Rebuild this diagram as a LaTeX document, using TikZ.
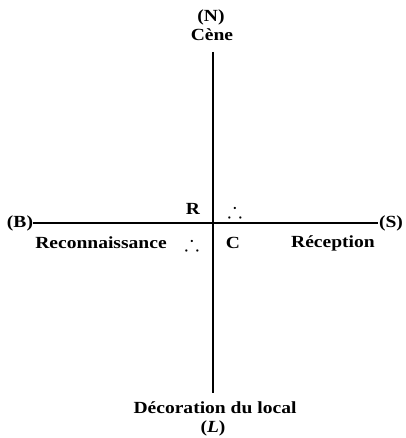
\documentclass[tikz,border=0pt]{standalone}
\usepackage{amssymb}
\usepackage{fontspec}
\setmainfont[FakeStretch=1.15]{Liberation Serif}
\begin{document}
\begin{tikzpicture}[x=1pt,y=-1pt,
  lab/.style={font=\fontsize{17}{18}\selectfont\bfseries, inner sep=0pt},
  dots/.style={font=\fontsize{22}{22}\selectfont, inner sep=0pt},
  axis/.style={line width=1.8pt, black}]
\useasboundingbox (0,0) rectangle (405,438);
% labels
\node[lab] (N) at (211,17) {(N)};
\node[lab] (cene) at (212,35) {Cène};
\node[lab] (B) at (20,223) {(B)};
\node[lab] (S) at (391,223) {(S)};
\node[lab] (R) at (193,209) {R};
\node[dots] (t1) at (235,210) {$\therefore$};
\node[lab] (reco) at (101,243) {Reconnaissance};
\node[dots] (t2) at (192,243) {$\therefore$};
\node[lab] (C) at (233,243) {C};
\node[lab] (recep) at (333,243) {Réception};
\node[lab] (deco) at (215,408) {Décoration du local};
\node[lab] (L) at (213,428) {(\textit{L})};
% axes
\coordinate (top) at (213,52);
\coordinate (bot) at (213,393);
\coordinate (left) at (33,223);
\coordinate (right) at (378,223);
\draw[axis, line width=2.1pt] (top) -- (bot);
\draw[axis] (left) -- (right);
\end{tikzpicture}
\end{document}
